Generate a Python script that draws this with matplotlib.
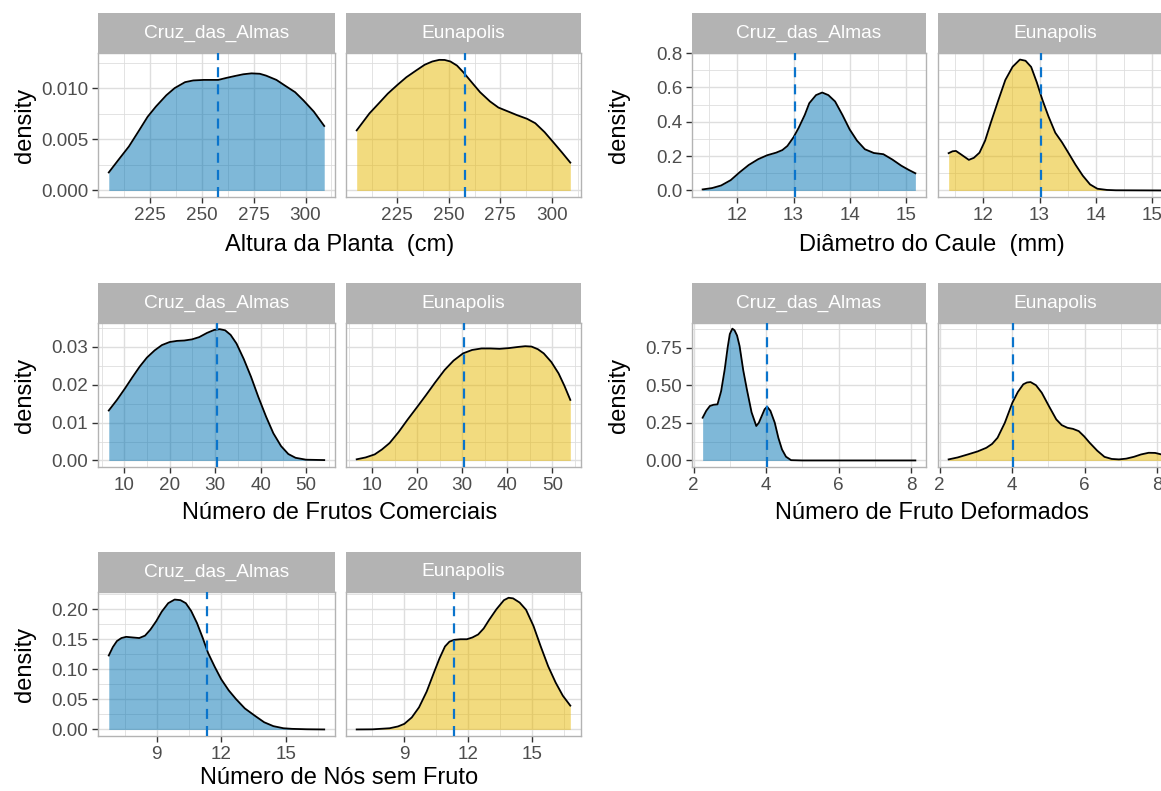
import matplotlib
matplotlib.use("Agg")
import matplotlib.pyplot as plt
from matplotlib.ticker import AutoMinorLocator, FixedLocator, FormatStrFormatter

plt.rcParams['font.family'] = ['Liberation Sans', 'DejaVu Sans']

# --- data -------------------------------------------------------------------
sites = ["Cruz_das_Almas", "Eunapolis"]

# Altura da Planta (cm)
alt_x_cruz = [205.3, 210, 215, 220, 224, 228, 233, 237, 242, 246, 251, 258, 262, 266, 270, 274,
              278, 281, 286, 290, 295, 299, 304, 309]
alt_d_cruz = [0.00176, 0.0030, 0.0043, 0.0059, 0.0072, 0.0082, 0.0093, 0.0100, 0.01058, 0.01075,
              0.0108, 0.0108, 0.0110, 0.01118, 0.01135, 0.01144, 0.0114, 0.01122, 0.0108, 0.01026,
              0.0096, 0.0088, 0.0077, 0.0063]
alt_x_eun = [205.3, 211.5, 216, 220.4, 225, 229.4, 234, 238.3, 242, 245.4, 248, 250.8, 254, 257.1,
             261, 265.2, 270, 274.1, 279, 283, 288, 292, 296.5, 301, 305, 309]
alt_d_eun = [0.00587, 0.00753, 0.0085, 0.00946, 0.0103, 0.01106, 0.0117, 0.01228, 0.0126, 0.01276,
             0.01275, 0.0126, 0.0122, 0.01154, 0.0106, 0.0096, 0.0087, 0.0081, 0.0077, 0.00737,
             0.0070, 0.00657, 0.0057, 0.00465, 0.0037, 0.00272]
alt_mean = 258.0

# Diametro do Caule (mm)
dia_x_cruz = [11.38, 11.55, 11.71, 11.88, 12.04, 12.2, 12.37, 12.53, 12.69, 12.8, 12.89, 13.0, 13.09,
              13.2, 13.28, 13.4, 13.51, 13.62, 13.74, 13.87, 14.0, 14.13, 14.27, 14.43, 14.6, 14.76,
              14.92, 15.05, 15.17]
dia_d_cruz = [0.006, 0.014, 0.029, 0.06, 0.106, 0.148, 0.182, 0.205, 0.22, 0.235, 0.259, 0.31, 0.364,
              0.44, 0.508, 0.555, 0.57, 0.555, 0.518, 0.44, 0.355, 0.29, 0.24, 0.218, 0.211, 0.18,
              0.144, 0.12, 0.10]
dia_x_eun = [11.38, 11.45, 11.51, 11.6, 11.74, 11.83, 11.93, 12.03, 12.13, 12.26, 12.39, 12.52, 12.65,
             12.75, 12.85, 12.95, 13.05, 13.16, 13.28, 13.4, 13.51, 13.64, 13.77, 13.9, 14.03, 14.2,
             14.36, 15.17]
dia_d_eun = [0.217, 0.228, 0.23, 0.21, 0.178, 0.19, 0.22, 0.29, 0.393, 0.52, 0.643, 0.72, 0.762,
             0.755, 0.719, 0.63, 0.528, 0.43, 0.336, 0.28, 0.221, 0.15, 0.086, 0.035, 0.010, 0.003,
             0.001, 0.0]
dia_mean = 13.03

# Numero de Frutos Comerciais
com_x_cruz = [6.6, 8.4, 10.2, 11.8, 13.4, 15.0, 16.7, 18.3, 20.0, 21.6, 23.2, 24.9, 26.5, 28.2, 29.8,
              31.0, 32.2, 33.4, 34.7, 36.3, 37.9, 39.5, 41.2, 42.8, 44.5, 46.1, 47.7, 50.0, 54.0]
com_d_cruz = [0.0132, 0.016, 0.0191, 0.022, 0.0248, 0.0272, 0.0291, 0.0305, 0.0313, 0.0316, 0.0317,
              0.032, 0.0326, 0.0337, 0.0345, 0.0347, 0.0344, 0.0332, 0.0309, 0.0268, 0.0221, 0.0168,
              0.0116, 0.0072, 0.0038, 0.0017, 0.0007, 0.0002, 0.0001]
com_x_eun = [6.6, 8.6, 10.6, 12.2, 13.9, 15.9, 17.9, 20.0, 22.0, 24.0, 26.1, 28.1, 30.2, 32.2, 34.3,
             36.3, 38.3, 40.4, 42.4, 44.0, 45.4, 46.8, 48.1, 49.8, 51.4, 52.7, 54.0]
com_d_eun = [0.0003, 0.0008, 0.0016, 0.0029, 0.0046, 0.0075, 0.0108, 0.0141, 0.0173, 0.0206, 0.0239,
             0.0264, 0.0283, 0.0292, 0.0296, 0.0296, 0.0295, 0.0297, 0.030, 0.0302, 0.0301, 0.0294,
             0.0283, 0.026, 0.023, 0.0197, 0.016]
com_mean = 30.5

# Numero de Fruto Deformados
def_x_cruz = [2.25, 2.35, 2.45, 2.55, 2.66, 2.76, 2.86, 2.94, 3.0, 3.07, 3.13, 3.2, 3.27, 3.37, 3.47,
              3.6, 3.73, 3.8, 3.88, 3.96, 4.03, 4.12, 4.24, 4.34, 4.44, 4.55, 4.69, 5.0, 8.12]
def_d_cruz = [0.284, 0.33, 0.362, 0.37, 0.373, 0.46, 0.606, 0.75, 0.84, 0.876, 0.865, 0.83, 0.76, 0.6,
              0.473, 0.32, 0.229, 0.25, 0.295, 0.34, 0.357, 0.33, 0.251, 0.15, 0.073, 0.025, 0.002,
              0.0, 0.0]
def_x_eun = [2.25, 2.5, 2.78, 3.05, 3.29, 3.45, 3.6, 3.8, 4.01, 4.16, 4.31, 4.41, 4.51, 4.66, 4.82,
             5.02, 5.22, 5.37, 5.53, 5.68, 5.84, 5.99, 6.14, 6.35, 6.55, 6.75, 6.95, 7.15, 7.36,
             7.56, 7.77, 7.95, 8.12]
def_d_eun = [0.007, 0.02, 0.04, 0.06, 0.084, 0.11, 0.151, 0.25, 0.384, 0.455, 0.506, 0.518, 0.521, 0.5,
             0.45, 0.36, 0.273, 0.235, 0.217, 0.21, 0.195, 0.16, 0.118, 0.065, 0.024, 0.01, 0.007,
             0.012, 0.024, 0.04, 0.051, 0.05, 0.040]
def_mean = 4.02

# Numero de Nos sem Fruto
nos_x_cruz = [6.76, 6.95, 7.14, 7.35, 7.57, 7.87, 8.18, 8.45, 8.7, 8.97, 9.23, 9.53, 9.83, 10.1, 10.35,
              10.6, 10.87, 11.13, 11.39, 11.7, 12.0, 12.35, 12.69, 13.1, 13.56, 14.0, 14.43, 14.9,
              15.3, 16.0, 16.8]
nos_d_cruz = [0.123, 0.137, 0.147, 0.152, 0.154, 0.153, 0.152, 0.156, 0.166, 0.18, 0.196, 0.21, 0.216,
              0.215, 0.21, 0.197, 0.177, 0.153, 0.127, 0.104, 0.0835, 0.065, 0.0505, 0.035, 0.023,
              0.012, 0.0055, 0.002, 0.001, 0.0003, 0.0]
nos_x_eun = [6.76, 7.5, 8.31, 8.7, 9.0, 9.35, 9.69, 10.05, 10.39, 10.65, 10.91, 11.12, 11.34, 11.64,
             11.94, 12.2, 12.47, 12.73, 12.98, 13.33, 13.68, 13.9, 14.11, 14.42, 14.72, 15.07, 15.41,
             15.76, 16.11, 16.45, 16.8]
nos_d_eun = [0.0, 0.0002, 0.002, 0.005, 0.0093, 0.02, 0.0368, 0.063, 0.0945, 0.118, 0.138, 0.146, 0.149,
             0.15, 0.15, 0.153, 0.158, 0.168, 0.182, 0.2, 0.215, 0.219, 0.218, 0.211, 0.199, 0.172,
             0.138, 0.105, 0.078, 0.056, 0.0396]
nos_mean = 11.34

fills = ["#0072B2", "#E7B800"]
mean_color = "#0A74CC"

W, H = 1161, 791
fig = plt.figure(figsize=(W / 100, H / 100), dpi=100)


def box(x0, y0, x1, y1):
    return [x0 / W, 1 - y1 / H, (x1 - x0) / W, (y1 - y0) / H]


def facet_group(left, top, curves, mean, xticks, yticks, yfmt, ymax, xlabel, label_off=232):
    # left: x pixel of first panel, top: y pixel of strip top
    panel_w = [237, 235] if left < 300 else [234, 234]
    gap = 11 if left < 300 else 12
    xs_all = [v for c in curves for v in c[0]]
    xmin, xmax = min(xs_all), max(xs_all)
    r = xmax - xmin
    x0 = left
    for i, (xs, ds) in enumerate(curves):
        pw = panel_w[i]
        ax = fig.add_axes(box(x0, top + 40, x0 + pw, top + 184))
        ax.set_xlim(xmin - 0.05 * r, xmax + 0.05 * r)
        ax.set_ylim(-0.05 * ymax, 1.05 * ymax)
        ax.xaxis.set_major_locator(FixedLocator(xticks))
        ax.yaxis.set_major_locator(FixedLocator(yticks))
        ax.xaxis.set_minor_locator(AutoMinorLocator(2))
        ax.yaxis.set_minor_locator(AutoMinorLocator(2))
        ax.yaxis.set_major_formatter(FormatStrFormatter(yfmt))
        ax.grid(True, which="major", color="#DEDEDE", lw=1.0)
        ax.grid(True, which="minor", color="#DEDEDE", lw=0.6)
        ax.set_axisbelow(True)
        for s in ax.spines.values():
            s.set_color("#B3B3B3")
            s.set_linewidth(1.0)
        ax.tick_params(axis="both", which="major", length=4, width=1.0,
                       color="#333333", labelcolor="#4D4D4D", labelsize=13.6, pad=3)
        ax.tick_params(axis="both", which="minor", length=0)
        if i > 0:
            ax.tick_params(axis="y", which="both", left=False, labelleft=False)
        ax.fill_between(xs, 0, ds, color=fills[i], alpha=0.5, lw=0, zorder=2)
        ax.plot(xs, ds, color="black", lw=1.3, zorder=3, solid_joinstyle="round")
        ax.axvline(mean, color=mean_color, lw=1.6, ls=(0, (4.5, 3.2)), zorder=4)
        # strip
        sax = fig.add_axes(box(x0, top, x0 + pw, top + 40))
        sax.set_facecolor("#B3B3B3")
        sax.set_xticks([])
        sax.set_yticks([])
        for s in sax.spines.values():
            s.set_visible(False)
        sax.text(0.5, 0.5, sites[i], color="white", fontsize=13.8,
                 ha="center", va="center", transform=sax.transAxes)
        x0 = x0 + pw + gap
    total_right = left + panel_w[0] + gap + panel_w[1]
    fig.text(((left + total_right) / 2) / W, 1 - (top + label_off) / H, xlabel,
             fontsize=17, ha="center", va="center")
    fig.text((left - 73) / W, 1 - (top + 112) / H, "density", fontsize=17,
             rotation=90, ha="center", va="center")


facet_group(98, 13, [(alt_x_cruz, alt_d_cruz), (alt_x_eun, alt_d_eun)], alt_mean,
            [225, 250, 275, 300], [0.0, 0.005, 0.010], "%.3f", 0.01279,
            "Altura da Planta  (cm)")
facet_group(692, 13, [(dia_x_cruz, dia_d_cruz), (dia_x_eun, dia_d_eun)], dia_mean,
            [12, 13, 14, 15], [0.0, 0.2, 0.4, 0.6, 0.8], "%.1f", 0.762,
            "Diâmetro do Caule  (mm)")
facet_group(98, 283, [(com_x_cruz, com_d_cruz), (com_x_eun, com_d_eun)], com_mean,
            [10, 20, 30, 40, 50], [0.0, 0.01, 0.02, 0.03], "%.2f", 0.0346,
            "Número de Frutos Comerciais", label_off=230)
facet_group(692, 283, [(def_x_cruz, def_d_cruz), (def_x_eun, def_d_eun)], def_mean,
            [2, 4, 6, 8], [0.0, 0.25, 0.5, 0.75], "%.2f", 0.870,
            "Número de Fruto Deformados", label_off=230)
facet_group(98, 552, [(nos_x_cruz, nos_d_cruz), (nos_x_eun, nos_d_eun)], nos_mean,
            [9, 12, 15], [0.0, 0.05, 0.10, 0.15, 0.20], "%.2f", 0.2177,
            "Número de Nós sem Fruto", label_off=226)

fig.savefig("out.png", dpi=100)
